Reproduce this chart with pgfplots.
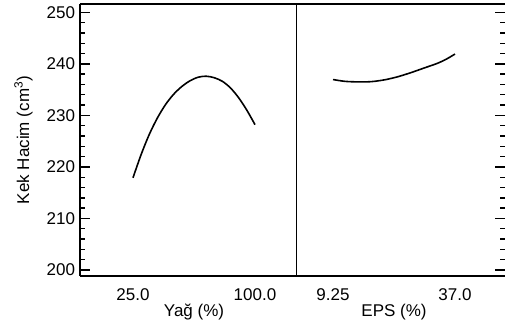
\documentclass[border=0pt]{standalone}
\usepackage{fontspec}
\setmainfont{Liberation Sans}
\usepackage{pgfplots}
\pgfplotsset{compat=1.18}
\begin{document}
\begin{tikzpicture}
\path[use as bounding box] (-80pt,-52pt) rectangle (425pt,276pt);
\pgfplotsset{
  common/.style={
    scale only axis,
    height=272pt,
    ymin=198.84, ymax=251.61,
    ytick={200,210,220,230,240,250},
    minor y tick num=4,
    tick align=inside,
    major tick length=10pt,
    minor tick length=5pt,
    every tick/.style={black, line width=1.4pt},
    major x tick style={draw=none},
    x axis line style={line width=1.6pt},
    y axis line style={line width=1.6pt},
    axis x line*=box,
    /pgf/number format/assume math mode=true,
    tick label style={font=\fontsize{17}{20}\selectfont},
    label style={font=\fontsize{17}{20}\selectfont},
    xticklabel style={anchor=base, yshift=-24.7pt},
    xlabel style={anchor=base, yshift=-41pt},
    clip=false,
  }
}
\begin{axis}[common,
  at={(0pt,0pt)}, anchor=south west,
  width=216pt,
  xmin=-7.58, xmax=125.21,
  axis y line*=left,
  xtick={25,100}, xticklabels={25.0,100.0},
  yticklabel style={xshift=-1.5pt},
  xlabel={Yağ (\%)},
  xlabel style={at={(axis description cs:0.5278,0)}},
  ylabel={Kek Hacim (cm\textsuperscript{3})},
  ylabel style={at={(axis description cs:-0.2361,0.5)}, anchor=base, rotate=0},
]
\addplot[black, line width=1.6pt, smooth] coordinates {
(25,217.9) (30,222.4) (35,226.3) (40,229.5) (45,232.1) (50,234.1)
(55,235.6) (60,236.7) (65,237.4) (70,237.6) (75,237.3) (80,236.6)
(85,235.3) (90,233.4) (95,231.0) (100,228.2)
};
\draw[black, line width=1pt] (rel axis cs:1,0) -- (rel axis cs:1,1);
\end{axis}
\begin{axis}[common,
  at={(216pt,0pt)}, anchor=south west,
  width=209pt,
  xmin=0.834, xmax=48.37,
  axis y line*=right,
  y axis line style={draw=none},
  yticklabels={},
  xtick={9.25,37}, xticklabels={9.25,37.0},
  xlabel={EPS (\%)},
  xlabel style={at={(axis description cs:0.4689,0)}},
]
\addplot[black, line width=1.6pt, smooth] coordinates {
(9.25,236.95) (12,236.6) (15,236.5) (18,236.55) (21,236.9) (24,237.5)
(27,238.3) (30,239.2) (33,240.1) (35,240.9) (37,241.9)
};
\end{axis}
\end{tikzpicture}
\end{document}
